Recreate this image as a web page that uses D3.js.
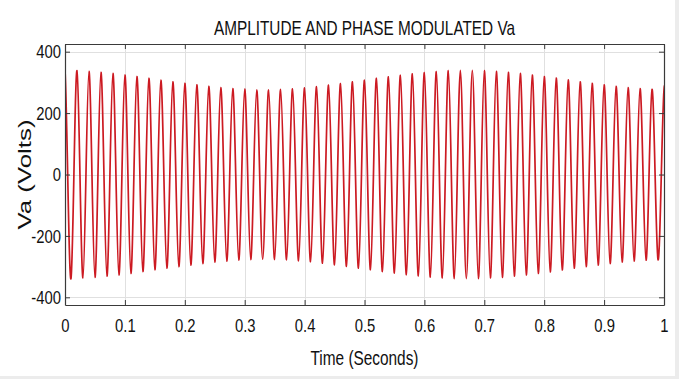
<!DOCTYPE html>
<html>
<head>
<meta charset="utf-8">
<script src="https://cdn.jsdelivr.net/npm/d3@7"></script>
<style>
  html, body { margin: 0; padding: 0; background: #ffffff; }
  svg { display: block; }
  text { font-family: "Liberation Sans", Arial, sans-serif; fill: #111; }
</style>
</head>
<body>
<svg id="chart" width="679" height="379"></svg>
<script>
// ---- data ----
const title = "AMPLITUDE AND PHASE MODULATED Va";
const xLabel = "Time (Seconds)";
const yLabel = "Va (Volts)";
const xTicks = [0, 0.1, 0.2, 0.3, 0.4, 0.5, 0.6, 0.7, 0.8, 0.9, 1];
const xTickLabels = ["0", "0.1", "0.2", "0.3", "0.4", "0.5", "0.6", "0.7", "0.8", "0.9", "1"];
const yTicks = [-400, -200, 0, 200, 400];
const yTickLabels = ["-400", "-200", "0", "200", "400"];
const xDomain = [0, 1];
const yDomain = [-425, 425];
const carrierHz = 50;           // 50 cycles in 1 s
// positive peaks, at t = 0, 0.02, ... 1.00 (Volts)
const peakAmps = [339,338,336,333,329,324,319,313,307,302,
                  297,292,287,283,280,278,276,276,277,279,
                  282,286,291,296,302,307,313,318,323,328,
                  332,335,338,339,339,338,336,333,329,324,
                  319,314,308,302,297,292,287,283,280,277,
                  276];
// negative peaks (magnitudes), at t = -0.01, 0.01, 0.03, ... 0.99, 1.01 (Volts)
// (first and last lie just outside the visible window)
const troughAmps = [340,
                    339,337,335,331,327,322,316,310,305,300,
                    295,290,285,282,279,277,276,277,278,281,
                    284,289,294,299,305,310,316,321,326,330,
                    334,337,339,339,339,337,335,331,327,322,
                    317,311,305,300,295,290,285,282,279,277,
                    276];

// ---- build the extreme points of the waveform ----
const halfPeriod = 1 / carrierHz / 2;
const points = [];
peakAmps.forEach((a, i) => points.push({ t: 2 * i * halfPeriod, v: a }));
troughAmps.forEach((a, j) => points.push({ t: (2 * j - 1) * halfPeriod, v: -a }));
points.sort((a, b) => a.t - b.t);

// ---- layout ----
const W = 679, H = 379;
const plot = { left: 65, right: 664, top: 44, bottom: 305 };
const squeeze = 0.78;   // reference text looks horizontally condensed

const svg = d3.select("#chart");
svg.append("rect").attr("width", W).attr("height", H).attr("fill", "#ffffff");
// faint screenshot edge
svg.append("rect").attr("x", 675).attr("y", 0).attr("width", 4).attr("height", H).attr("fill", "#ececec");
svg.append("rect").attr("x", 0).attr("y", 376).attr("width", W).attr("height", 3).attr("fill", "#ececec");

const x = d3.scaleLinear().domain(xDomain).range([plot.left, plot.right]);
const y = d3.scaleLinear().domain(yDomain).range([plot.bottom, plot.top]);

// grid
const grid = svg.append("g").attr("stroke", "#e0e0e0").attr("stroke-width", 1);
xTicks.slice(1, -1).forEach(t => {
  grid.append("line").attr("x1", Math.round(x(t)) + 0.5).attr("x2", Math.round(x(t)) + 0.5)
    .attr("y1", plot.top).attr("y2", plot.bottom);
});
yTicks.forEach(v => {
  grid.append("line").attr("x1", plot.left).attr("x2", plot.right)
    .attr("y1", Math.round(y(v)) + 0.5).attr("y2", Math.round(y(v)) + 0.5);
});

// waveform
svg.append("defs").append("clipPath").attr("id", "clip")
  .append("rect").attr("x", plot.left).attr("y", plot.top)
  .attr("width", plot.right - plot.left).attr("height", plot.bottom - plot.top);

const line = d3.line().x(d => x(d.t)).y(d => y(d.v)).curve(d3.curveNatural);
svg.append("path").datum(points)
  .attr("clip-path", "url(#clip)")
  .attr("d", line)
  .attr("fill", "none")
  .attr("stroke", "#cc1a22")
  .attr("stroke-width", 1.7);

// axes (box with inward ticks)
const axisColor = "#3a3a3a";
const fmtX = d => xTickLabels[xTicks.indexOf(d)];
const fmtY = d => yTickLabels[yTicks.indexOf(d)];

const gx = svg.append("g").attr("transform", `translate(0,${plot.bottom})`)
  .call(d3.axisBottom(x).tickValues(xTicks).tickFormat(fmtX).tickSizeInner(-5).tickSizeOuter(0).tickPadding(14));
const gxTop = svg.append("g").attr("transform", `translate(0,${plot.top})`)
  .call(d3.axisTop(x).tickValues(xTicks).tickFormat("").tickSizeInner(-5).tickSizeOuter(0));
const gy = svg.append("g").attr("transform", `translate(${plot.left},0)`)
  .call(d3.axisLeft(y).tickValues(yTicks).tickFormat(fmtY).tickSizeInner(-5).tickSizeOuter(0).tickPadding(4));
const gyR = svg.append("g").attr("transform", `translate(${plot.right},0)`)
  .call(d3.axisRight(y).tickValues(yTicks).tickFormat("").tickSizeInner(-5).tickSizeOuter(0));

[gx, gxTop, gy, gyR].forEach(g => {
  g.select(".domain").attr("stroke", axisColor).attr("stroke-width", 1.2);
  g.selectAll(".tick line").attr("stroke", axisColor).attr("stroke-width", 1);
  g.selectAll(".tick text").attr("fill", "#111")
    .style("font-family", "'Liberation Sans', Arial, sans-serif")
    .style("font-size", "19px");
});

function condense(sel, k) {
  sel.each(function () {
    const w = this.getComputedTextLength();
    if (w > 0) d3.select(this).attr("textLength", w * k).attr("lengthAdjust", "spacingAndGlyphs");
  });
}
condense(gx.selectAll(".tick text"), squeeze);
condense(gy.selectAll(".tick text"), squeeze);

// title and labels
const tTitle = svg.append("text").attr("x", (plot.left + plot.right) / 2).attr("y", 35)
  .attr("text-anchor", "middle").style("font-size", "21px").text(title);
condense(tTitle, 301 / tTitle.node().getComputedTextLength());

const tX = svg.append("text").attr("x", (plot.left + plot.right) / 2).attr("y", 365)
  .attr("text-anchor", "middle").style("font-size", "20px").text(xLabel);
condense(tX, 108 / tX.node().getComputedTextLength());

const tY = svg.append("text").attr("transform", `translate(31,${y(0)}) rotate(-90)`)
  .attr("text-anchor", "middle")
  .style("font-size", "18px").text(yLabel);
condense(tY, 110 / tY.node().getComputedTextLength());
</script>
</body>
</html>
